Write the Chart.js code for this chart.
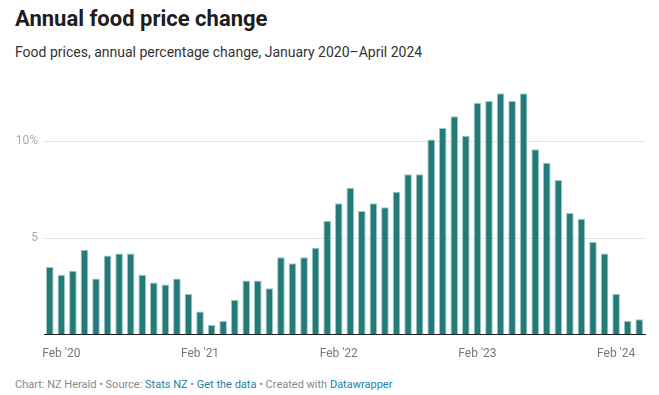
<!DOCTYPE html>
<html>
<head>
<meta charset="utf-8">
<script src="https://cdn.jsdelivr.net/npm/chart.js@4"></script>
<style>
  body { margin: 0; background: #fff; font-family: Roboto, sans-serif; }
  #wrap { position: relative; width: 659px; height: 395px; overflow: hidden; }
  h1 { position: absolute; left: 15px; top: 6px; margin: 0; font-size: 22px; font-weight: 700; color: #1d1d1d; white-space: nowrap; }
  .sub { position: absolute; left: 15px; top: 44px; font-size: 14px; color: #333; white-space: nowrap; }
  #chartBox { position: absolute; left: 0; top: 80px; width: 659px; height: 285px; }
  .foot { position: absolute; left: 15px; top: 378px; font-size: 11px; color: #888; white-space: nowrap; }
  .foot a { color: #1d81a2; text-decoration: none; }
</style>
</head>
<body>
<div id="wrap">
  <h1>Annual food price change</h1>
  <div class="sub">Food prices, annual percentage change, January 2020–April 2024</div>
  <div id="chartBox"><canvas id="myChart"></canvas></div>
  <div class="foot">Chart: NZ Herald • Source: <a>Stats NZ</a> • <a>Get the data</a> • Created with <a>Datawrapper</a></div>
</div>
<script>
// months Jan 2020 .. Apr 2024
const months = [
  "Jan '20", "Feb '20", "Mar '20", "Apr '20", "May '20", "Jun '20", "Jul '20", "Aug '20", "Sep '20", "Oct '20", "Nov '20", "Dec '20",
  "Jan '21", "Feb '21", "Mar '21", "Apr '21", "May '21", "Jun '21", "Jul '21", "Aug '21", "Sep '21", "Oct '21", "Nov '21", "Dec '21",
  "Jan '22", "Feb '22", "Mar '22", "Apr '22", "May '22", "Jun '22", "Jul '22", "Aug '22", "Sep '22", "Oct '22", "Nov '22", "Dec '22",
  "Jan '23", "Feb '23", "Mar '23", "Apr '23", "May '23", "Jun '23", "Jul '23", "Aug '23", "Sep '23", "Oct '23", "Nov '23", "Dec '23",
  "Jan '24", "Feb '24", "Mar '24", "Apr '24"
];

const foodChange = [
  3.5, 3.1, 3.3, 4.4, 2.9, 4.1, 4.2, 4.2, 3.1, 2.7, 2.6, 2.9,
  2.1, 1.2, 0.5, 0.7, 1.8, 2.8, 2.8, 2.4, 4.0, 3.7, 4.0, 4.5,
  5.9, 6.8, 7.6, 6.4, 6.8, 6.6, 7.4, 8.3, 8.3, 10.1, 10.7, 11.3,
  10.3, 12.0, 12.1, 12.5, 12.1, 12.5, 9.6, 8.9, 8.0, 6.3, 6.0, 4.8,
  4.2, 2.1, 0.7, 0.8
];

const xTickLabels = ["Feb '20", "Feb '21", "Feb '22", "Feb '23", "Feb '24"];
const yTicks = [0, 5, 10];
const yTickLabels = ["", "5", "10%"];

const ctx = document.getElementById('myChart');

new Chart(ctx, {
  type: 'bar',
  data: {
    labels: months,
    datasets: [{
      label: 'Food prices',
      data: foodChange,
      backgroundColor: '#237a78',
      borderColor: '#9ccbc6',
      borderWidth: 1,
      borderSkipped: 'bottom',
      barPercentage: 0.66,
      categoryPercentage: 1
    }]
  },
  options: {
    responsive: true,
    maintainAspectRatio: false,
    animation: false,
    layout: { padding: { left: 0, right: 14, top: 10, bottom: 0 } },
    plugins: {
      legend: { display: false },
      tooltip: { enabled: false }
    },
    scales: {
      x: {
        grid: { display: false },
        border: { display: true, color: '#222', width: 1 },
        ticks: {
          autoSkip: false,
          maxRotation: 0,
          padding: 4,
          color: '#777',
          font: { family: 'Roboto', size: 12 },
          callback: (val, i) => xTickLabels.includes(months[i]) ? months[i] : ''
        }
      },
      y: {
        min: 0,
        max: 12.5,
        afterBuildTicks: (axis) => { axis.ticks = yTicks.map(v => ({ value: v })); },
        grid: { color: '#e3e3e3', drawTicks: false },
        border: { display: false },
        afterFit: (axis) => { axis.width = 44; },
        ticks: {
          padding: 6,
          color: '#aaa',
          font: { family: 'Roboto', size: 12 },
          callback: (val) => yTickLabels[yTicks.indexOf(val)]
        }
      }
    }
  }
});
</script>
</body>
</html>
